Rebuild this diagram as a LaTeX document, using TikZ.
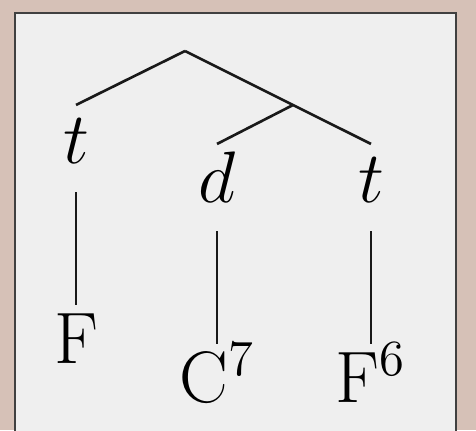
\documentclass[tikz,border=0pt]{standalone}
\usepackage{amsmath}
\usepackage{tikz}
\usepackage{xcolor}
\definecolor{frametan}{HTML}{D6C1B7}
\definecolor{panelgray}{HTML}{EFEFEF}

\begin{document}
\begin{tikzpicture}[
x=0.01cm, y=-0.01cm,
sym/.style={inner sep=0pt, outer sep=0pt, anchor=base, text height=0.58cm, text depth=0.29cm, font=\huge},
branch/.style={line width=0.75pt, draw=black!90}
]
\useasboundingbox (0,0) rectangle (476,430);
\fill[frametan] (0,0) rectangle (476,430);
\filldraw[fill=panelgray, draw=black!75, line width=0.7pt] (15,13) rectangle (456,445);
\coordinate (root) at (185,51);
\coordinate (mid) at (293,105);
\node[sym] (t1) at (76,163) {$t$};
\node[sym] (d) at (217,202) {$d$};
\node[sym] (t2) at (371,202) {$t$};
\node[sym] (f) at (76,363) {F};
\node[sym] (c7) at (217,402) {C$^7$};
\node[sym] (f6) at (371,402) {F$^6$};
\draw[branch] (root) -- (t1.north);
\draw[branch] (root) -- (t2.north);
\draw[branch] (mid) -- (d.north);
\draw[branch] (t1.south) -- (f.north);
\draw[branch] (d.south) -- (c7.north);
\draw[branch] (t2.south) -- (f6.north);
\end{tikzpicture}
\end{document}
